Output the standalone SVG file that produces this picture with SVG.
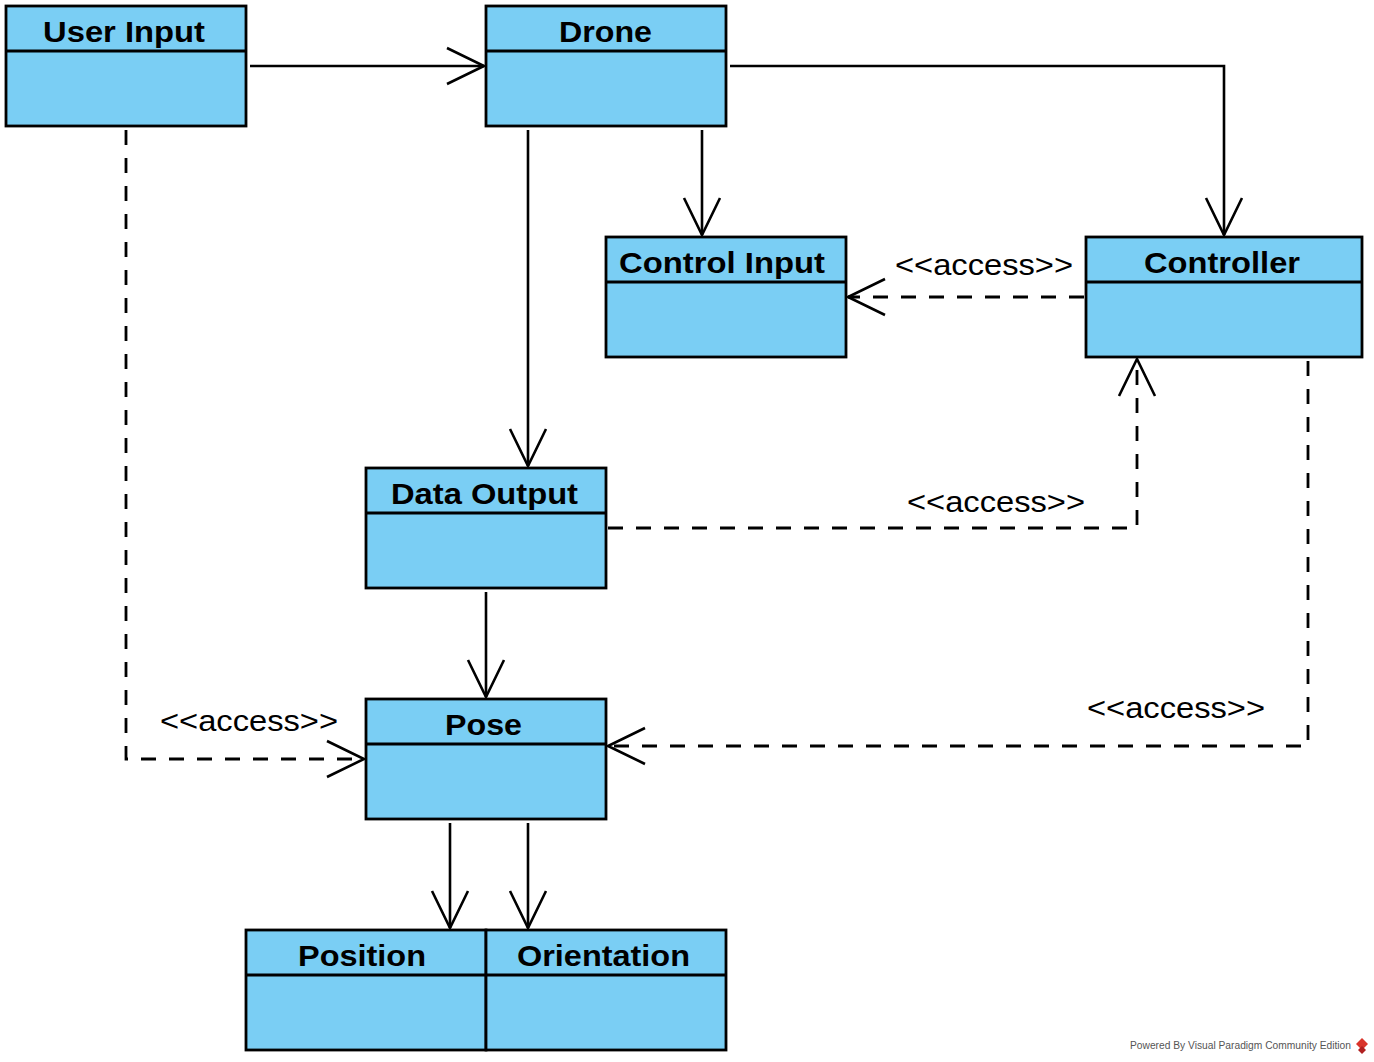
<svg xmlns="http://www.w3.org/2000/svg" width="1374" height="1062" viewBox="0 0 1374 1062">
<style>
.box{fill:#7ACEF4;stroke:#000;stroke-width:2.8}
.div{stroke:#000;stroke-width:2.8;fill:none}
.title{font-family:"Liberation Sans",Arial,sans-serif;font-weight:bold;font-size:30px;fill:#000}
.lbl{font-family:"Liberation Sans",Arial,sans-serif;font-size:30px;fill:#000}
.ln{fill:none;stroke:#000;stroke-width:2.6}
.dash{fill:none;stroke:#000;stroke-width:2.8;stroke-dasharray:15 13}
.wm{font-family:"Liberation Sans",Arial,sans-serif;font-size:10px;fill:#555}
</style>
<defs>
<marker id="open" viewBox="-40 -20 42 40" refX="0" refY="0" markerWidth="42" markerHeight="40" markerUnits="userSpaceOnUse" orient="auto">
<path d="M-37,-18 L0,0 L-37,18" fill="none" stroke="#000" stroke-width="2.6"/>
</marker>
</defs>
<rect width="1374" height="1062" fill="#fff"/>
<g id="connectors">
<path class="ln" d="M250,66 H484" marker-end="url(#open)"/>
<path class="ln" d="M730,66 H1224 V235" marker-end="url(#open)"/>
<path class="ln" d="M702,130 V235" marker-end="url(#open)"/>
<path class="ln" d="M528,130 V466" marker-end="url(#open)"/>
<path class="dash" d="M1084,297 H848" marker-end="url(#open)"/>
<path class="dash" d="M608,528 H1137 V359" marker-end="url(#open)"/>
<path class="ln" d="M486,592 V697" marker-end="url(#open)"/>
<path class="dash" d="M126,130 V759 H364" marker-end="url(#open)"/>
<path class="dash" d="M1308,361 V746 H608" marker-end="url(#open)"/>
<path class="ln" d="M450,823 V928" marker-end="url(#open)"/>
<path class="ln" d="M528,823 V928" marker-end="url(#open)"/>
<text class="lbl" x="895" y="275" textLength="178" lengthAdjust="spacingAndGlyphs">&lt;&lt;access&gt;&gt;</text>
<text class="lbl" x="907" y="512" textLength="178" lengthAdjust="spacingAndGlyphs">&lt;&lt;access&gt;&gt;</text>
<text class="lbl" x="160" y="731" textLength="178" lengthAdjust="spacingAndGlyphs">&lt;&lt;access&gt;&gt;</text>
<text class="lbl" x="1087" y="718" textLength="178" lengthAdjust="spacingAndGlyphs">&lt;&lt;access&gt;&gt;</text>
</g>
<g id="user-input">
<rect class="box" x="6" y="6" width="240" height="120"/>
<line class="div" x1="6" y1="51" x2="246" y2="51"/>
<text class="title" x="43" y="42" textLength="162" lengthAdjust="spacingAndGlyphs">User Input</text>
</g>
<g id="drone">
<rect class="box" x="486" y="6" width="240" height="120"/>
<line class="div" x1="486" y1="51" x2="726" y2="51"/>
<text class="title" x="559" y="42" textLength="93" lengthAdjust="spacingAndGlyphs">Drone</text>
</g>
<g id="control-input">
<rect class="box" x="606" y="237" width="240" height="120"/>
<line class="div" x1="606" y1="282" x2="846" y2="282"/>
<text class="title" x="619" y="273" textLength="206" lengthAdjust="spacingAndGlyphs">Control Input</text>
</g>
<g id="controller">
<rect class="box" x="1086" y="237" width="276" height="120"/>
<line class="div" x1="1086" y1="282" x2="1362" y2="282"/>
<text class="title" x="1144" y="273" textLength="156" lengthAdjust="spacingAndGlyphs">Controller</text>
</g>
<g id="data-output">
<rect class="box" x="366" y="468" width="240" height="120"/>
<line class="div" x1="366" y1="513" x2="606" y2="513"/>
<text class="title" x="391" y="504" textLength="187" lengthAdjust="spacingAndGlyphs">Data Output</text>
</g>
<g id="pose">
<rect class="box" x="366" y="699" width="240" height="120"/>
<line class="div" x1="366" y1="744" x2="606" y2="744"/>
<text class="title" x="445" y="735" textLength="77" lengthAdjust="spacingAndGlyphs">Pose</text>
</g>
<g id="position">
<rect class="box" x="246" y="930" width="240" height="120"/>
<line class="div" x1="246" y1="975" x2="486" y2="975"/>
<text class="title" x="298" y="966" textLength="128" lengthAdjust="spacingAndGlyphs">Position</text>
</g>
<g id="orientation">
<rect class="box" x="486" y="930" width="240" height="120"/>
<line class="div" x1="486" y1="975" x2="726" y2="975"/>
<text class="title" x="517" y="966" textLength="173" lengthAdjust="spacingAndGlyphs">Orientation</text>
</g>
<g id="watermark">
<text class="wm" x="1130" y="1049" textLength="221" lengthAdjust="spacingAndGlyphs">Powered By Visual Paradigm Community Edition</text>
<path d="M1362,1038 L1368,1044 L1362,1050 L1356,1044 Z" fill="#d9342b"/>
<path d="M1362,1046 L1366,1050 L1362,1054 L1358,1050 Z" fill="#b02020"/>
</g>
</svg>
